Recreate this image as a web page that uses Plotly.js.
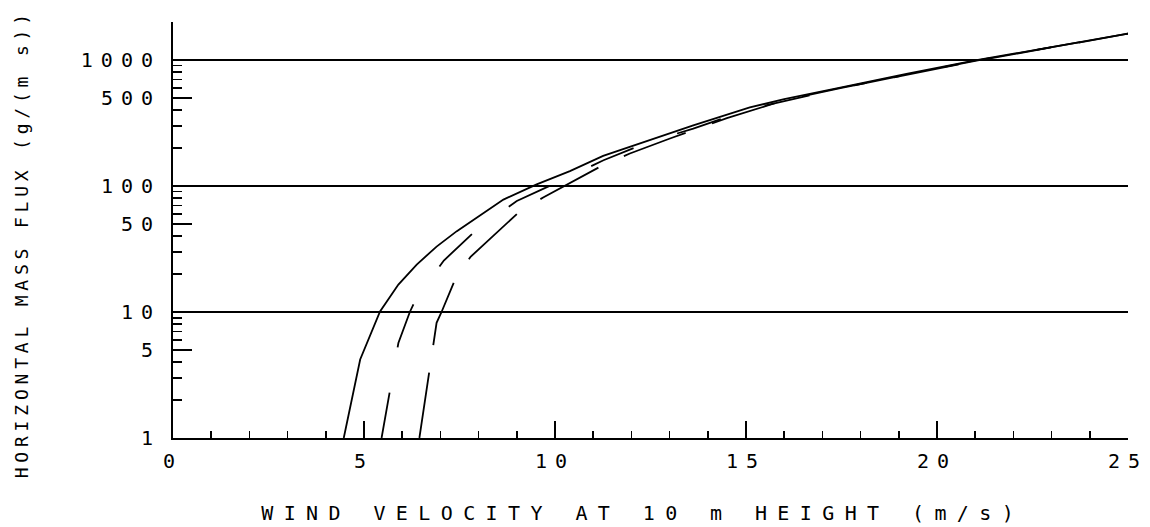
<!DOCTYPE html>
<html><head><meta charset="utf-8">
<script src="https://cdn.plot.ly/plotly-3.0.1.min.js"></script>
<style>
html,body{margin:0;padding:0;background:#fff;}
#chart .xtick text, #chart .ytick text{letter-spacing:8px;}
#chart .annotation.xlab .annotation-text{letter-spacing:10.4px;}
#chart .annotation.ylab .annotation-text{letter-spacing:4.8px;}
</style></head>
<body><div id="chart" style="width:1150px;height:527px;"></div>
<script>
// Wind velocity at 10 m height (m/s) vs horizontal mass flux (g/(m s))
const solidX = [4.47, 4.9, 5.42, 5.9, 6.38, 6.9, 7.43, 8.0, 8.65, 9.52, 10.39, 11.26, 12.14, 13.0, 13.62, 15.1, 16.0, 17.5, 19.2, 21.0, 25.0];
const solidY = [1, 4.2, 10.1, 16.5, 23.8, 33, 43.8, 57, 78, 103, 131, 173, 214, 262, 303, 420, 489, 605, 775, 990, 1620];

const middleX = [5.46, 5.68, 5.9, 6.2, 6.36, 7.09, 7.98, 9.0, 9.87, 10.09, 11.27, 12.49, 13.62, 15.1, 17.5, 21.0, 25.0];
const middleY = [1, 2.41, 5.67, 10, 12.7, 25.6, 46, 76, 100, 108, 160, 225, 285, 408, 600, 985, 1620];

const rightX = [6.45, 6.71, 6.83, 6.9, 7.03, 7.38, 7.79, 9.08, 9.69, 10.25, 11.27, 11.96, 13.01, 14.5, 16.0, 17.5, 21.0, 25.0];
const rightY = [1, 3.48, 5.67, 8.2, 10, 18, 27.4, 63, 81, 100, 147, 181, 238, 345, 478, 600, 980, 1615];

const xTickVals = [0, 5, 10, 15, 20, 25];
const xTickText = ['0', '5', '10', '15', '20', '25'];
const yTickVals = [1, 5, 10, 50, 100, 500, 1000];
const yTickText = ['1', '5', '10', '50', '100', '500', '1000'];
const yMinorVals = [2, 3, 4, 6, 7, 8, 9, 20, 30, 40, 60, 70, 80, 90, 200, 300, 400, 600, 700, 800, 900, 2000];
const yGridVals = [10, 100, 1000];
const yMax = 2000;

const xTitle = 'WIND VELOCITY AT 10 m HEIGHT (m/s)';
const yTitle = 'HORIZONTAL MASS FLUX (g/(m s))';

const font = {family: 'DejaVu Sans Mono', color: '#000'};
const yRange = [0, Math.log10(yMax)];

const traces = [
  {x: solidX, y: solidY, mode: 'lines', line: {color: '#000', width: 1.8}, hoverinfo: 'skip'},
  {x: middleX, y: middleY, mode: 'lines', line: {color: '#000', width: 1.8, dash: '46px,46px'}, hoverinfo: 'skip'},
  {x: rightX, y: rightY, mode: 'lines', yaxis: 'y2', line: {color: '#000', width: 1.8, dash: '66px,28px'}, hoverinfo: 'skip'}
];

const layout = {
  width: 1150, height: 527,
  margin: {l: 173, r: 22, t: 22, b: 89, pad: 0},
  paper_bgcolor: '#fff', plot_bgcolor: '#fff',
  showlegend: false,
  font: Object.assign({size: 19}, font),
  xaxis: {
    range: [0, 25], type: 'linear',
    tickmode: 'array', tickvals: xTickVals, ticktext: xTickText,
    ticks: 'inside', ticklen: 17, tickwidth: 1.5, tickcolor: '#000',
    minor: {dtick: 1, tick0: 0, ticks: 'inside', ticklen: 7, tickwidth: 1.5, tickcolor: '#000', showgrid: false},
    showline: true, linecolor: '#000', linewidth: 2,
    showgrid: false, zeroline: false,
    tickfont: Object.assign({size: 20}, font),
    ticklabelstandoff: 4
  },
  yaxis: {
    type: 'log', range: yRange,
    tickmode: 'array', tickvals: yTickVals, ticktext: yTickText,
    ticks: 'inside', ticklen: 19, tickwidth: 1.5, tickcolor: '#000',
    minor: {tickmode: 'array', tickvals: yMinorVals, ticks: 'inside', ticklen: 9, tickwidth: 1.5, tickcolor: '#000', showgrid: false},
    showline: true, linecolor: '#000', linewidth: 2,
    showgrid: false, zeroline: false,
    tickfont: Object.assign({size: 20}, font),
    ticklabelstandoff: 6
  },
  yaxis2: {
    type: 'log', range: yRange, overlaying: 'y', side: 'left',
    tickmode: 'array', tickvals: yGridVals,
    showticklabels: false, ticks: '',
    showgrid: true, gridcolor: '#000', gridwidth: 1.5,
    showline: false, zeroline: false
  },
  annotations: [
    {text: xTitle, xref: 'paper', yref: 'paper', x: 0.492, y: -0.18, xanchor: 'center', yanchor: 'middle',
     showarrow: false, font: Object.assign({size: 20}, font), name: 'xlab'},
    {text: yTitle, xref: 'paper', yref: 'paper', x: -0.159, y: 0.466, xanchor: 'center', yanchor: 'middle',
     textangle: -90, showarrow: false, font: Object.assign({size: 18}, font), name: 'ylab'}
  ]
};

Plotly.newPlot('chart', traces, layout, {staticPlot: true, displayModeBar: false}).then(function () {
  const anns = document.querySelectorAll('#chart .annotation');
  if (anns[0]) anns[0].classList.add('xlab');
  if (anns[1]) anns[1].classList.add('ylab');
});
</script>
</body></html>
